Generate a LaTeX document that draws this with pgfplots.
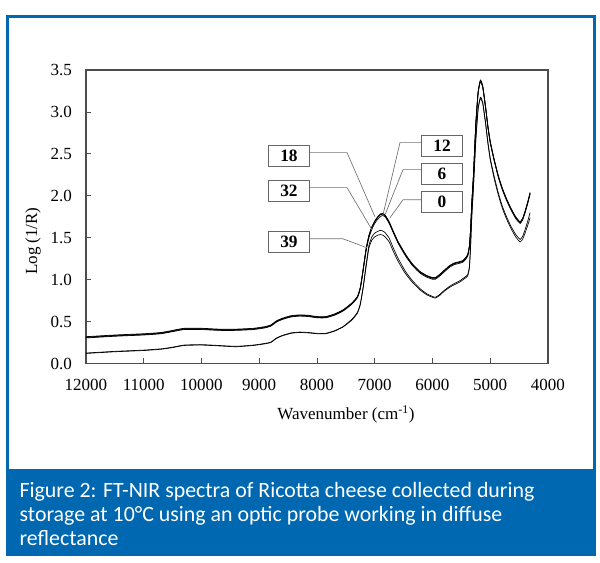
\documentclass[border=0pt]{standalone}
\usepackage{fontspec}
\setmainfont{Liberation Serif}
\newfontfamily\capfont{Carlito}
\usepackage{pgfplots}
\pgfplotsset{compat=1.18}
\usepackage{pgfplotstable}
\definecolor{frameblue}{RGB}{0,103,177}
\pgfplotstableread{
wn s0 s6 s12 s18 s32 s39
12000 0.310 0.315 0.320 0.305 0.125 0.120
11500 0.330 0.335 0.340 0.325 0.145 0.140
11000 0.345 0.350 0.355 0.340 0.160 0.155
10700 0.360 0.365 0.370 0.355 0.175 0.170
10500 0.385 0.390 0.395 0.380 0.195 0.190
10300 0.410 0.415 0.420 0.405 0.220 0.215
10000 0.410 0.415 0.420 0.405 0.225 0.220
9700 0.400 0.405 0.410 0.395 0.215 0.210
9400 0.400 0.405 0.410 0.395 0.205 0.200
9100 0.410 0.415 0.420 0.405 0.220 0.215
8900 0.430 0.435 0.440 0.425 0.240 0.235
8800 0.450 0.455 0.460 0.445 0.255 0.250
8700 0.500 0.505 0.510 0.495 0.305 0.300
8600 0.530 0.535 0.540 0.525 0.335 0.330
8450 0.560 0.565 0.570 0.555 0.365 0.360
8300 0.570 0.575 0.580 0.565 0.375 0.370
8150 0.565 0.570 0.575 0.560 0.370 0.365
8000 0.550 0.555 0.560 0.545 0.360 0.355
7850 0.550 0.555 0.560 0.545 0.360 0.355
7700 0.580 0.585 0.590 0.575 0.390 0.385
7550 0.630 0.635 0.640 0.625 0.440 0.435
7400 0.710 0.715 0.720 0.705 0.525 0.515
7300 0.790 0.795 0.800 0.785 0.610 0.600
7250 0.900 0.905 0.910 0.890 0.715 0.700
7200 1.120 1.125 1.130 1.105 0.920 0.900
7150 1.360 1.365 1.370 1.340 1.180 1.150
7100 1.520 1.525 1.530 1.500 1.410 1.380
7050 1.620 1.625 1.630 1.600 1.510 1.470
7000 1.690 1.695 1.700 1.670 1.555 1.510
6950 1.740 1.745 1.750 1.720 1.575 1.530
6900 1.775 1.780 1.785 1.755 1.588 1.538
6860 1.780 1.785 1.790 1.765 1.580 1.530
6820 1.760 1.765 1.770 1.750 1.560 1.510
6750 1.680 1.685 1.690 1.670 1.495 1.450
6680 1.570 1.575 1.580 1.560 1.380 1.340
6600 1.450 1.455 1.460 1.440 1.260 1.225
6500 1.330 1.335 1.340 1.320 1.135 1.105
6450 1.275 1.280 1.285 1.265 1.080 1.055
6350 1.180 1.185 1.190 1.170 0.990 0.970
6220 1.090 1.095 1.100 1.080 0.895 0.880
6100 1.040 1.045 1.050 1.030 0.832 0.820
6000 1.015 1.020 1.025 1.005 0.800 0.790
5950 1.015 1.020 1.025 1.005 0.790 0.780
5880 1.050 1.055 1.060 1.040 0.820 0.810
5800 1.100 1.105 1.110 1.090 0.870 0.860
5700 1.160 1.165 1.170 1.150 0.922 0.910
5620 1.190 1.195 1.200 1.180 0.955 0.940
5530 1.205 1.210 1.215 1.195 0.985 0.970
5470 1.220 1.225 1.230 1.210 1.015 1.000
5430 1.250 1.255 1.260 1.240 1.035 1.020
5390 1.290 1.295 1.300 1.280 1.060 1.045
5360 1.400 1.405 1.410 1.390 1.160 1.145
5340 1.600 1.605 1.610 1.590 1.415 1.400
5320 1.900 1.905 1.910 1.890 1.755 1.740
5290 2.250 2.255 2.260 2.240 2.125 2.110
5250 2.850 2.855 2.860 2.840 2.675 2.660
5210 3.230 3.235 3.240 3.220 3.045 3.030
5170 3.370 3.375 3.380 3.360 3.175 3.160
5130 3.300 3.305 3.310 3.290 3.115 3.100
5080 3.050 3.055 3.060 3.040 2.870 2.850
5040 2.820 2.825 2.830 2.810 2.640 2.620
5000 2.640 2.645 2.650 2.630 2.450 2.430
4930 2.420 2.425 2.430 2.410 2.225 2.200
4860 2.230 2.235 2.240 2.220 2.035 2.010
4790 2.080 2.085 2.090 2.070 1.875 1.850
4715 1.950 1.955 1.960 1.940 1.745 1.720
4640 1.840 1.845 1.850 1.830 1.635 1.610
4560 1.740 1.745 1.750 1.730 1.540 1.510
4500 1.690 1.695 1.700 1.680 1.490 1.460
4480 1.680 1.685 1.690 1.670 1.480 1.450
4440 1.720 1.725 1.730 1.710 1.515 1.480
4400 1.800 1.805 1.810 1.790 1.590 1.550
4350 1.920 1.925 1.930 1.910 1.700 1.650
4310 2.030 2.035 2.040 2.020 1.800 1.740
}\spectra

\begin{document}
\begin{tikzpicture}
\path[use as bounding box] (0pt,0pt) rectangle (450pt,-421.5pt);
\fill[white] (0pt,0pt) rectangle (450pt,-421.5pt);
\fill[frameblue] (4.125pt,-351.75pt) rectangle (447pt,-417pt);
\draw[frameblue, line width=2.25pt] (5.25pt,-12.6pt) rectangle (445.9pt,-416pt);
\begin{scope}[every node/.style={anchor=base west, inner sep=0pt, text=white, font=\capfont\fontsize{16.4}{18}\selectfont}]
\node at (14.5pt,-373pt) {Figure 2: FT-NIR spectra of Ricotta cheese collected during};
\node at (14.5pt,-391pt) {storage at 10°C using an optic probe working in diffuse};
\node at (14.5pt,-409pt) {reflectance};
\end{scope}
\begin{axis}[
  at={(64.5pt,-272.625pt)}, anchor=south west,
  scale only axis, width=346.5pt, height=220.125pt,
  x dir=reverse, xmin=4000, xmax=12000, ymin=0, ymax=3.5,
  xtick={4000,5000,...,12000}, ytick={0,0.5,...,3.5},
  scaled x ticks=false,
  tick align=inside, tick pos=left, major tick length=4pt,
  axis line style={black!70, line width=0.8pt},
  tick style={black!70, line width=0.6pt},
  ticklabel style={font=\fontsize{12.75}{14}\selectfont},
  /pgf/number format/assume math mode=true,
  xticklabel style={/pgf/number format/1000 sep={}, yshift=-8.5pt},
  yticklabel style={/pgf/number format/fixed, /pgf/number format/fixed zerofill, /pgf/number format/precision=1, xshift=-7pt},
  xlabel={Wavenumber (cm\textsuperscript{-1})}, ylabel={Log (1/R)},
  label style={font=\fontsize{12.75}{14}\selectfont},
  x label style={at={(axis description cs:0.5628,-0.174)}, anchor=center},
  y label style={at={(axis description cs:-0.1147,0.417)}, anchor=center},
]
\addplot[black, line width=0.5pt, smooth, tension=0.3, no markers] table[x=wn,y=s39]{\spectra};
\addplot[black, line width=0.5pt, smooth, tension=0.3, no markers] table[x=wn,y=s32]{\spectra};
\addplot[black, line width=0.5pt, smooth, tension=0.3, no markers] table[x=wn,y=s18]{\spectra};
\addplot[black, line width=0.5pt, smooth, tension=0.3, no markers] table[x=wn,y=s12]{\spectra};
\addplot[black, line width=0.5pt, smooth, tension=0.3, no markers] table[x=wn,y=s6]{\spectra};
\addplot[black, line width=0.5pt, smooth, tension=0.3, no markers] table[x=wn,y=s0]{\spectra};
\begin{scope}[black!55, line width=0.5pt]
\draw (axis cs:8121,2.515) -- (axis cs:7480,2.515) -- (axis cs:6996,1.750);
\draw (axis cs:8121,2.097) -- (axis cs:7480,2.097) -- (axis cs:7048,1.595);
\draw (axis cs:8121,1.487) -- (axis cs:7550,1.487) -- (axis cs:7134,1.380);
\draw (axis cs:6182,2.634) -- (axis cs:6563,2.634) -- (axis cs:6857,1.774);
\draw (axis cs:6182,2.312) -- (axis cs:6511,2.312) -- (axis cs:6822,1.774);
\draw (axis cs:6182,1.953) -- (axis cs:6511,1.953) -- (axis cs:6736,1.738);
\end{scope}
\begin{scope}[every node/.style={draw=black!60, line width=0.6pt, fill=white, minimum width=30.75pt, minimum height=15.75pt, inner sep=0pt, font=\bfseries\fontsize{13}{14}\selectfont}]
\node at (axis cs:8485,2.473) {18};
\node at (axis cs:8485,2.061) {32};
\node at (axis cs:8485,1.452) {39};
\node at (axis cs:5835,2.599) {12};
\node at (axis cs:5835,2.264) {6};
\node at (axis cs:5835,1.924) {0};
\end{scope}
\end{axis}
\end{tikzpicture}
\end{document}
